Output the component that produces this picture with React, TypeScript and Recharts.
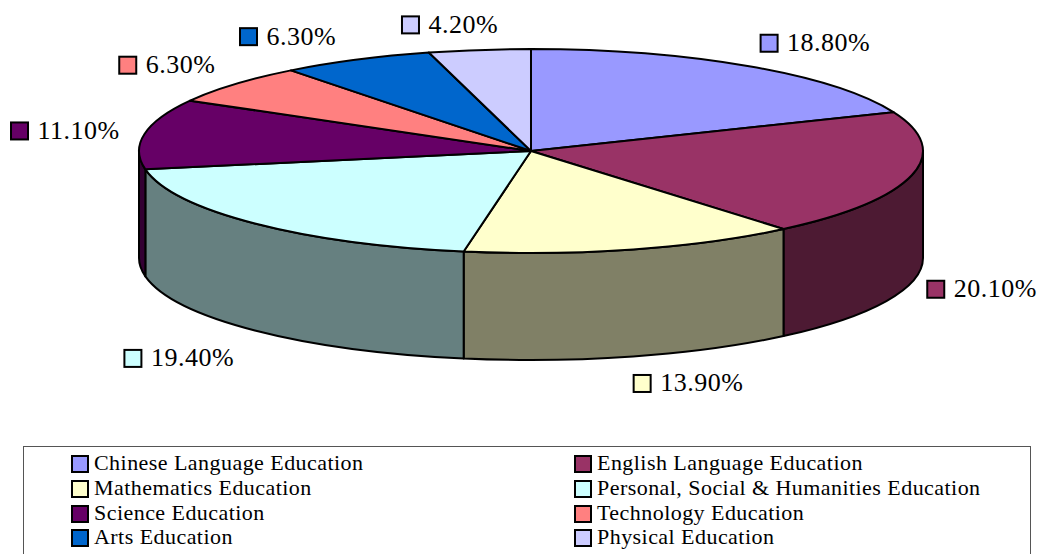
import React from 'react';
import { PieChart, Pie, Legend } from 'recharts';

const SUBJECTS = [
  'Chinese Language Education',
  'English Language Education',
  'Mathematics Education',
  'Personal, Social & Humanities Education',
  'Science Education',
  'Technology Education',
  'Arts Education',
  'Physical Education',
];
const SHARES = [18.8, 20.1, 13.9, 19.4, 11.1, 6.3, 6.3, 4.2];
const COLORS = ['#9999ff', '#993366', '#ffffcc', '#ccffff', '#660066', '#ff8080', '#0066cc', '#ccccff'];
const WALL_COLORS = ['#4d4d80', '#4d1a33', '#808066', '#668080', '#330033', '#804040', '#003366', '#666680'];

// label nudges from the rim of each slice
const LABEL_NUDGE = [
  [20, -23], [24, 7], [9, 27], [-122, 28], [-125, -3], [-107, -19], [-108, -23], [-69, -25],
];

const rows = SUBJECTS.map((name, i) => ({ name, value: SHARES[i], fill: COLORS[i] }));

const FONT = '"Liberation Serif", "Times New Roman", serif';
const SQUASH = 102 / 392;
const DEPTH = 107;
const RAD = Math.PI / 180;

// clockwise from 12 o'clock, on the squashed rim
const rim = (cx: number, cy: number, r: number, deg: number) => ({
  x: cx + r * Math.sin(deg * RAD),
  y: cy - r * SQUASH * Math.cos(deg * RAD),
});

const Slice = (props: any) => {
  const { cx, cy, outerRadius: r, startAngle, endAngle, fill, index } = props;
  const a = 90 - startAngle;
  const b = 90 - endAngle;
  const ry = r * SQUASH;
  const p1 = rim(cx, cy, r, a);
  const p2 = rim(cx, cy, r, b);
  const top = `M${cx},${cy} L${p1.x},${p1.y} A${r},${ry} 0 ${b - a > 180 ? 1 : 0} 1 ${p2.x},${p2.y} Z`;

  // only the front half of the rim has a visible wall
  const wa = Math.max(a, 90);
  const wb = Math.min(b, 270);
  let wall = null;
  if (wb > wa) {
    const w1 = rim(cx, cy, r, wa);
    const w2 = rim(cx, cy, r, wb);
    const d =
      `M${w1.x},${w1.y} A${r},${ry} 0 0 1 ${w2.x},${w2.y} L${w2.x},${w2.y + DEPTH} ` +
      `A${r},${ry} 0 0 0 ${w1.x},${w1.y + DEPTH} Z`;
    wall = <path d={d} fill={WALL_COLORS[index]} stroke="#000" strokeWidth={2} strokeLinejoin="round" />;
  }
  return (
    <g>
      {wall}
      <path d={top} fill={fill} stroke="#000" strokeWidth={2} strokeLinejoin="round" />
    </g>
  );
};

const SliceLabel = (props: any) => {
  const { cx, cy, outerRadius: r, midAngle, index, value } = props;
  const deg = ((90 - midAngle) % 360 + 360) % 360;
  const edge = rim(cx, cy, r, deg);
  const front = deg > 90 && deg < 270;
  const x = edge.x + LABEL_NUDGE[index][0];
  const y = edge.y + (front ? DEPTH : 0) + LABEL_NUDGE[index][1];
  return (
    <g>
      <rect x={x - 8.5} y={y - 8.5} width={17} height={17} fill={COLORS[index]} stroke="#000" strokeWidth={2} />
      <text x={x + 18} y={y + 8} fontFamily={FONT} fontSize={26} letterSpacing={0.5} fill="#000">
        {value.toFixed(2)}%
      </text>
    </g>
  );
};

const LegendBox = ({ payload }: any) => (
  <div
    style={{
      display: 'grid',
      gridTemplateColumns: '503px 1fr',
      gridAutoRows: '24.7px',
      boxSizing: 'border-box',
      height: 120,
      padding: '4px 0 0 47px',
      border: '1px solid #555',
      background: '#fff',
      fontFamily: FONT,
      fontSize: 22,
      letterSpacing: 0.45,
      color: '#000',
    }}
  >
    {(payload || []).map((entry: any) => (
      <div key={entry.value} style={{ display: 'flex', alignItems: 'center', whiteSpace: 'nowrap' }}>
        <span
          style={{
            display: 'inline-block',
            boxSizing: 'border-box',
            width: 18,
            height: 18,
            marginRight: 5,
            marginTop: 2,
            background: entry.color,
            border: '2px solid #000',
          }}
        />
        {entry.value}
      </div>
    ))}
  </div>
);

export default function App() {
  return (
    <div style={{ position: 'absolute', left: 0, top: 0, width: 1041, height: 554, overflow: 'hidden', background: '#fff' }}>
      <PieChart width={1041} height={554} margin={{ top: 0, right: 0, bottom: 0, left: 0 }}>
        <Pie
          data={rows}
          dataKey="value"
          nameKey="name"
          cx={531}
          cy={151}
          outerRadius={392}
          startAngle={90}
          endAngle={-270}
          stroke="#000"
          shape={Slice}
          label={SliceLabel}
          labelLine={false}
          isAnimationActive={false}
        />
        <Legend
          content={LegendBox}
          itemSorter={null}
          wrapperStyle={{ position: 'absolute', left: 23, top: 446, width: 1008, height: 120 }}
        />
      </PieChart>
    </div>
  );
}
